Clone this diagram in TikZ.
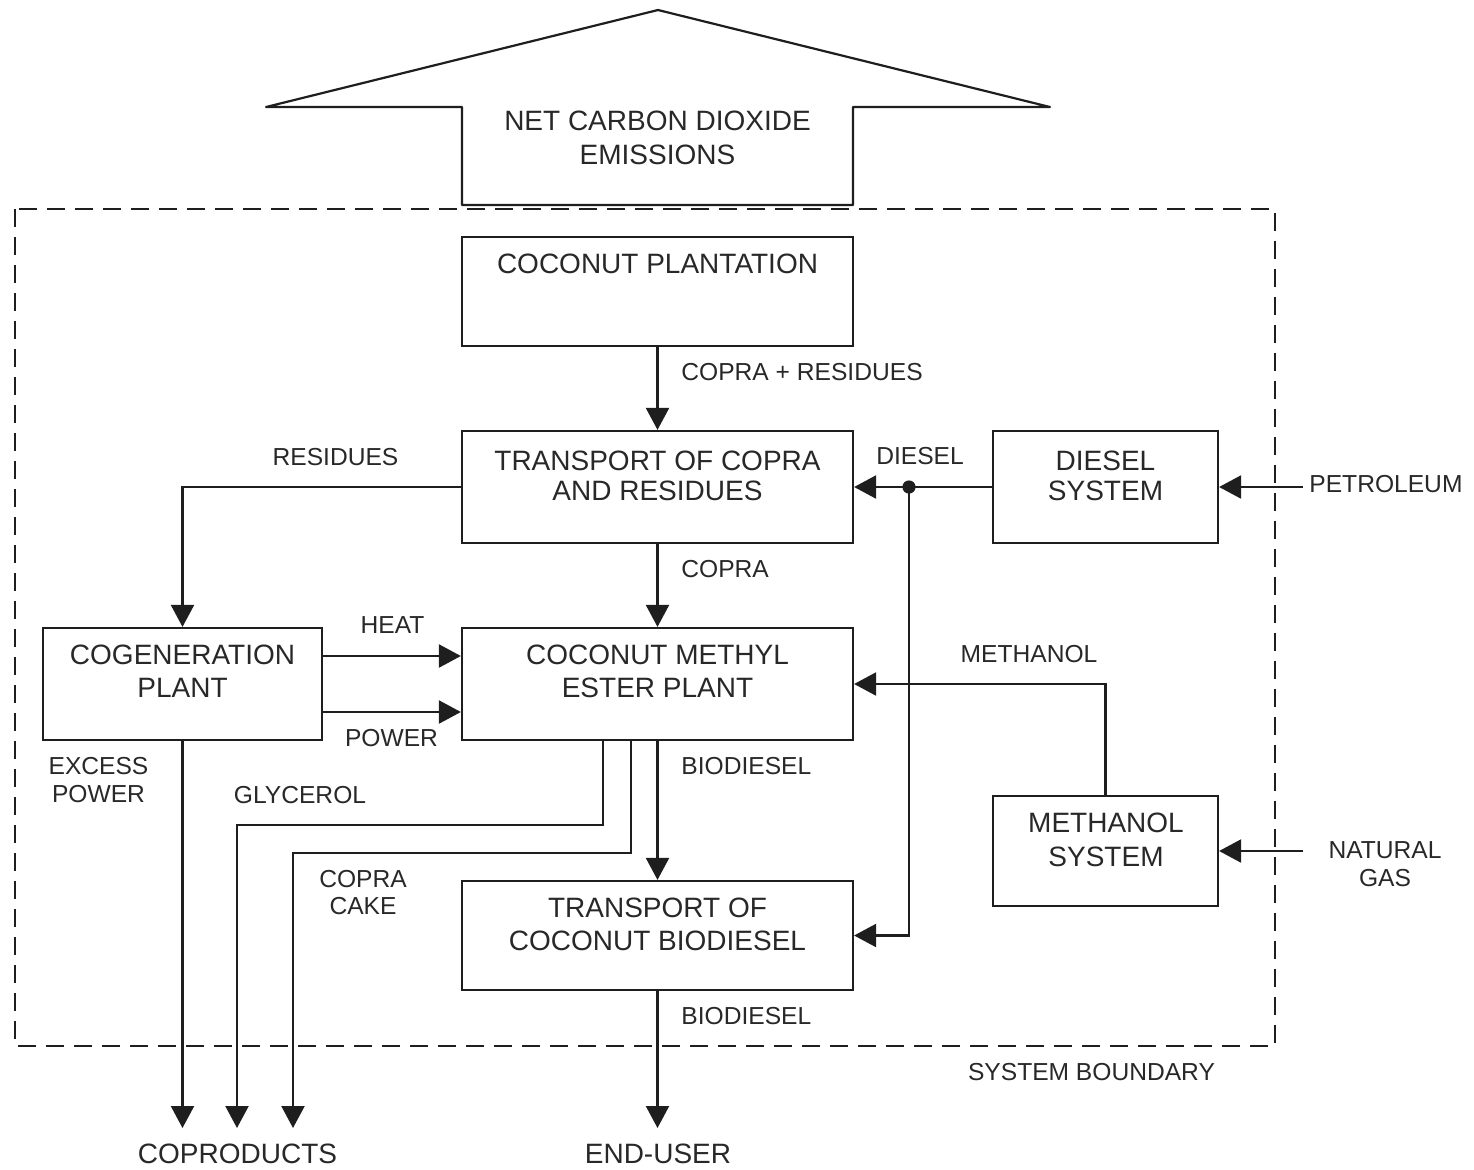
\documentclass[tikz,border=0pt]{standalone}
\usepackage{fontspec}
\setmainfont{Liberation Sans}
\usetikzlibrary{arrows.meta}
\definecolor{ln}{RGB}{30,30,30}
\definecolor{tx}{RGB}{40,40,40}
\begin{document}
\begin{tikzpicture}[x=0.5pt,y=-0.5pt,
  box/.style={draw=ln, line width=1.1pt, inner sep=0pt},
  btxt/.style={inner sep=0pt, align=center, text=tx, font=\fontsize{14}{16.5}\selectfont},
  btxtn/.style={inner sep=0pt, align=center, text=tx, font=\fontsize{14}{15}\selectfont},
  lbl/.style={inner sep=0pt, align=center, text=tx, font=\fontsize{12.3}{14}\selectfont},
  arr/.style={draw=ln, line width=1.1pt, -{Triangle[length=11pt,width=11.5pt]}},
  bound/.style={draw=ln, line width=0.9pt, dash pattern=on 9pt off 5pt}]
\useasboundingbox (0,0) rectangle (1474,1169);

% big emissions arrow
\draw[draw=ln, line width=1.1pt, line join=round]
  (462,205) -- (462,107) -- (266,107) -- (658,10) -- (1050,107) -- (853,107) -- (853,205) -- cycle;
\node[btxt, font=\fontsize{14}{16.75}\selectfont] (co2T) at (657.5,138) {NET CARBON DIOXIDE\\EMISSIONS};

% system boundary
\draw[bound] (15,209) rectangle (1275,1046);
\node[lbl] (sysb) at (1091.5,1072.5) {SYSTEM BOUNDARY};

% boxes
\node[box, minimum width=195.5pt, minimum height=54.5pt] (plant)  at (657.5,291.5) {};
\node[box, minimum width=195.5pt, minimum height=56pt]   (tcopra) at (657.5,487) {};
\node[box, minimum width=112.5pt, minimum height=56pt]   (diesel) at (1105.5,487) {};
\node[box, minimum width=139.5pt, minimum height=56pt]   (cogen)  at (182.5,684) {};
\node[box, minimum width=195.5pt, minimum height=56pt]   (cme)    at (657.5,684) {};
\node[box, minimum width=112.5pt, minimum height=55pt]   (meth)   at (1105.5,851) {};
\node[box, minimum width=195.5pt, minimum height=54.5pt] (tbio)   at (657.5,935.5) {};

% box texts
\node[btxt]  (plantT)  at (657.5,264) {COCONUT PLANTATION};
\node[btxtn] (tcopraT) at (657.5,476) {TRANSPORT OF COPRA\\AND RESIDUES};
\node[btxtn] (dieselT) at (1105.5,476) {DIESEL\\SYSTEM};
\node[btxt]  (cogenT)  at (182.5,671.5) {COGENERATION\\PLANT};
\node[btxt]  (cmeT)    at (657.5,671.5) {COCONUT METHYL\\ESTER PLANT};
\node[btxt, font=\fontsize{14}{17}\selectfont] (methT) at (1106,840) {METHANOL\\SYSTEM};
\node[btxt]  (tbioT)   at (657.5,924.5) {TRANSPORT OF\\COCONUT BIODIESEL};

% outside ends
\coordinate (petro) at (1303,487);
\coordinate (gas)   at (1303,851);
\coordinate (cp1)   at (182.5,1128);
\coordinate (cp2)   at (237,1128);
\coordinate (cp3)   at (293,1128);
\coordinate (eu)    at (657.5,1128);
\coordinate (dj)    at (909,487);

% connectors
\draw[arr] (plant.south) -- (tcopra.north);
\draw[arr] (tcopra.west) -| (cogen.north);
\draw[arr] (tcopra.south) -- (cme.north);
\draw[arr] (diesel.west) -- (tcopra.east);
\fill[ln] (dj) circle (3.3pt);
\draw[arr] (dj) |- (tbio.east);
\draw[arr] (petro) -- (diesel.east);
\draw[arr] (meth.north) |- (cme.east);
\draw[arr] (gas) -- (meth.east);
\draw[arr] ([yshift=14pt]cogen.east) -- ([yshift=14pt]cme.west);
\draw[arr] ([yshift=-14pt]cogen.east) -- ([yshift=-14pt]cme.west);
\draw[arr] (cogen.south) -- (cp1);
\draw[arr] ([xshift=-27.25pt]cme.south) -- ++(0,84) -| (cp2);
\draw[arr] ([xshift=-13.25pt]cme.south) -- ++(0,112) -| (cp3);
\draw[arr] (cme.south) -- (tbio.north);
\draw[arr] (tbio.south) -- (eu);

% labels
\node[lbl, anchor=west] (lcr)   at (681,372) {COPRA + RESIDUES};
\node[lbl] (lres)  at (335.5,456.7) {RESIDUES};
\node[lbl, anchor=west] (lcop)  at (681,568.7) {COPRA};
\node[lbl] (ldie)  at (920,456.5) {DIESEL};
\node[lbl, anchor=west] (lpet)  at (1309,484.5) {PETROLEUM};
\node[lbl] (lheat) at (392.5,625.5) {HEAT};
\node[lbl] (lpow)  at (391.5,738.5) {POWER};
\node[lbl] (lmeth) at (1029,654) {METHANOL};
\node[lbl] (lexc)  at (98.5,780) {EXCESS\\POWER};
\node[lbl] (lgly)  at (300,795) {GLYCEROL};
\node[lbl, anchor=west] (lbio1) at (681,766.5) {BIODIESEL};
\node[lbl, font=\fontsize{12.3}{13.75}\selectfont] (lcake) at (363,892.5) {COPRA\\CAKE};
\node[lbl, font=\fontsize{12.3}{13.75}\selectfont] (lgas)  at (1385,864) {NATURAL\\GAS};
\node[lbl, anchor=west] (lbio2) at (681,1016.5) {BIODIESEL};
\node[btxt] (lcoprod) at (237.5,1154) {COPRODUCTS};
\node[btxt] (leu)     at (658,1154) {END-USER};
\end{tikzpicture}
\end{document}
